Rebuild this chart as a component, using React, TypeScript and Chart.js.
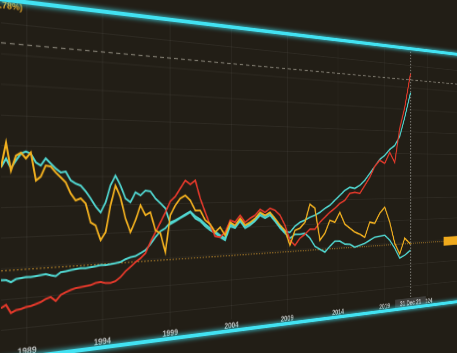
import React, { useEffect, useRef } from "react";
import { Chart, registerables } from "chart.js";

Chart.register(...registerables);

// ---- data (decimal years, index levels) ----
const dates = [
  1987.39, 1987.70, 1988.00, 1988.31, 1988.62, 1988.93, 1989.24, 1989.56, 1989.87, 1990.19,
  1990.51, 1990.84, 1991.17, 1991.50, 1991.83, 1992.16, 1992.50, 1992.84, 1993.18, 1993.52,
  1993.87, 1994.22, 1994.57, 1994.92, 1995.28, 1995.64, 1996.00, 1996.37, 1996.74, 1997.11,
  1997.48, 1997.86, 1998.24, 1998.62, 1999.00, 1999.39, 1999.78, 2000.18, 2000.58, 2000.98,
  2001.38, 2001.79, 2002.20, 2002.61, 2003.03, 2003.45, 2003.88, 2004.30, 2004.74, 2005.17,
  2005.61, 2006.05, 2006.50, 2006.95, 2007.40, 2007.86, 2008.32, 2008.78, 2009.25, 2009.73,
  2010.20, 2010.69, 2011.17, 2011.66, 2012.16, 2012.66, 2013.16, 2013.67, 2014.18, 2014.70,
  2015.22, 2015.75, 2016.28, 2016.81, 2017.35, 2017.90, 2018.45, 2019.01, 2019.57, 2020.14,
  2020.71, 2021.29, 2021.97,
];

const goldSeries = [
  53.0, 61.1, 52.0, 56.9, 57.9, 56.0, 58.0, 48.7, 50.0, 53.7,
  53.4, 51.4, 49.7, 48.0, 44.2, 41.8, 42.5, 40.7, 34.1, 33.0,
  27.8, 30.5, 39.9, 46.8, 42.6, 35.1, 30.1, 34.3, 39.6, 36.0,
  37.0, 30.4, 29.2, 22.2, 35.7, 39.3, 41.8, 42.9, 41.0, 37.2,
  37.2, 33.4, 31.8, 28.7, 30.5, 27.3, 32.2, 31.0, 33.6, 30.9,
  31.9, 33.4, 35.7, 34.5, 35.6, 33.1, 30.3, 28.1, 22.0, 27.9,
  28.7, 31.0, 38.4, 36.7, 23.3, 26.1, 31.4, 30.5, 34.6, 29.5,
  27.7, 25.9, 24.9, 23.4, 29.9, 29.3, 33.6, 36.2, 29.5, 20.0,
  15.0, 22.0, 19.1,
];

const tealUpperSeries = [
  53.0, 55.9, 52.7, 55.3, 57.6, 58.3, 57.6, 54.7, 53.7, 56.1,
  54.4, 52.7, 51.4, 51.7, 48.7, 47.6, 46.9, 44.9, 42.4, 39.6,
  37.5, 40.9, 46.9, 50.3, 46.8, 42.2, 40.8, 44.3, 43.2, 44.9,
  44.6, 42.0, 40.2, 38.3, 32.4, 33.4, 34.5, 35.5, 36.6, 34.2,
  33.1, 31.1, 29.5, 28.3, 26.7, 25.4, 30.7, 29.9, 32.5, 29.7,
  30.8, 32.3, 34.5, 33.3, 34.4, 31.9, 29.1, 26.9, 24.8, 26.3,
  26.2, 26.5, 24.4, 20.9, 19.5, 18.2, 20.5, 22.5, 22.4, 21.0,
  20.8, 19.4, 20.1, 20.8, 22.0, 23.2, 23.5, 23.8, 21.5, 17.8,
  13.2, 14.3, 16.4,
];

const tealLowerSeries = [
  16.4, 16.3, 15.5, 16.4, 16.6, 16.8, 16.7, 16.9, 17.1, 17.3,
  16.8, 16.4, 17.6, 17.8, 18.1, 18.3, 18.5, 18.4, 18.6, 18.8,
  19.1, 19.0, 19.2, 19.4, 19.7, 20.6, 21.2, 21.5, 22.4, 23.4,
  25.4, 27.9, 30.0, 31.0, 33.1, 33.8, 34.8, 35.9, 36.9, 35.0,
  33.8, 31.9, 30.3, 29.0, 27.4, 26.2, 31.5, 30.6, 33.2, 30.5,
  31.5, 33.0, 35.3, 34.1, 35.2, 32.7, 29.9, 27.7, 27.2, 29.6,
  31.1, 31.9, 33.0, 33.8, 34.9, 36.5, 37.7, 39.8, 41.8, 43.9,
  45.2, 44.7, 46.0, 48.1, 51.1, 54.2, 57.3, 59.1, 61.8, 63.6,
  67.7, 76.3, 87.7,
];

const redSeries = [
  7.3, 8.2, 5.4, 6.2, 6.4, 6.9, 7.1, 7.6, 8.1, 9.0,
  9.5, 8.0, 9.9, 10.7, 11.3, 11.8, 12.0, 12.2, 12.4, 13.0,
  13.2, 12.7, 12.6, 13.1, 14.4, 16.3, 17.7, 19.3, 20.6, 22.3,
  26.2, 29.7, 33.2, 36.8, 40.8, 42.6, 45.5, 48.5, 47.0, 48.5,
  41.7, 36.4, 31.4, 27.1, 26.7, 28.5, 33.0, 32.2, 34.8, 32.0,
  33.5, 34.6, 36.9, 35.6, 37.2, 36.3, 34.3, 30.2, 24.0, 21.8,
  24.6, 26.1, 28.1, 28.0, 30.8, 32.8, 34.8, 36.4, 38.4, 39.7,
  42.6, 43.0, 42.5, 45.9, 49.4, 54.2, 56.9, 55.6, 60.5, 56.0,
  71.3, 80.8, 96.3,
];

const yearTicks = [1989, 1994, 1999, 2004, 2009, 2014, 2019, 2024];
const gridLevels = [0, 10, 20, 30, 40, 50, 60, 70, 80, 90, 100];
const legendText = "(.78%)";
const cursorDate = 2021.99;
const cursorLabel = "31 Dec 21";
const lastGoldLevel = 19.4;
const dashedLevel = 93.5;
const priceTagStart = 2026.0;

// ---- layout ----
const X_MIN = 1987.394;
const X_MAX = 2029.345;
const Y_MIN = -5.29;
const Y_MAX = 107.65;
const PANEL_W = 700;
const PANEL_H = 346;
const QUAD: number[][] = [
  [0, -2],
  [470, 55.15],
  [470, 300.7],
  [0, 361.6],
];

const BG = "rgb(34,30,22)";
const GOLD = "#f2b01e";
const TEAL = "#50d6d0";
const RED = "#e2382a";
const BORDER = "#42e2f2";

function homography(w: number, h: number, q: number[][]) {
  const [x0, y0] = q[0];
  const [x1, y1] = q[1];
  const [x2, y2] = q[2];
  const [x3, y3] = q[3];
  const dx1 = x1 - x2, dx2 = x3 - x2, dx3 = x0 - x1 + x2 - x3;
  const dy1 = y1 - y2, dy2 = y3 - y2, dy3 = y0 - y1 + y2 - y3;
  const den = dx1 * dy2 - dx2 * dy1;
  const g = (dx3 * dy2 - dx2 * dy3) / den;
  const hh = (dx1 * dy3 - dx3 * dy1) / den;
  const a = x1 - x0 + g * x1;
  const b = x3 - x0 + hh * x3;
  const d = y1 - y0 + g * y1;
  const e = y3 - y0 + hh * y3;
  return `matrix3d(${a / w},${d / w},0,${g / w},${b / h},${e / h},0,${hh / h},0,0,1,0,${x0},${y0},0,1)`;
}

const toPoints = (vals: number[]) => vals.map((v, i) => ({ x: dates[i], y: v }));

const overlayPlugin = {
  id: "overlay",
  beforeDatasetsDraw(chart: any) {
    const { ctx, chartArea, scales } = chart;
    const x = scales.x;
    const y = scales.y;
    ctx.save();
    // dashed reference line
    ctx.setLineDash([5, 4]);
    ctx.strokeStyle = "rgba(200,195,180,0.55)";
    ctx.lineWidth = 1.3;
    const yd = y.getPixelForValue(dashedLevel);
    ctx.beginPath();
    ctx.moveTo(chartArea.left, yd);
    ctx.lineTo(chartArea.right, yd);
    ctx.stroke();
    // last gold value line
    ctx.setLineDash([2, 2]);
    ctx.strokeStyle = "rgba(170,125,40,0.85)";
    ctx.lineWidth = 1.2;
    const yg = y.getPixelForValue(lastGoldLevel);
    ctx.beginPath();
    ctx.moveTo(chartArea.left, yg);
    ctx.lineTo(chartArea.right, yg);
    ctx.stroke();
    // cursor line
    ctx.setLineDash([2, 2]);
    ctx.strokeStyle = "rgba(170,170,165,0.7)";
    ctx.lineWidth = 1.5;
    const xc = x.getPixelForValue(cursorDate);
    ctx.beginPath();
    ctx.moveTo(xc, chartArea.top);
    ctx.lineTo(xc, chartArea.bottom);
    ctx.stroke();
    ctx.restore();
  },
  afterDraw(chart: any) {
    const { ctx, chartArea, scales } = chart;
    const x = scales.x;
    const y = scales.y;
    ctx.save();
    // legend fragment
    ctx.font = "bold 9px 'Liberation Sans', Arial, sans-serif";
    ctx.fillStyle = "#e4a526";
    ctx.textAlign = "right";
    ctx.textBaseline = "middle";
    ctx.fillText(legendText, chartArea.left + 22, chartArea.top + 6);
    // price tag
    const yg = y.getPixelForValue(lastGoldLevel);
    const xt = x.getPixelForValue(priceTagStart);
    ctx.fillStyle = "#f0aa1c";
    ctx.fillRect(xt, yg - 6, chartArea.right - xt, 12);
    // cursor date box
    const xc = x.getPixelForValue(cursorDate);
    const by = chartArea.bottom + 7;
    ctx.fillStyle = "#3e3d3a";
    ctx.fillRect(xc - 30, by - 7, 60, 14);
    ctx.font = "bold 9px 'Liberation Sans', Arial, sans-serif";
    ctx.fillStyle = "#cfcfcf";
    ctx.textAlign = "center";
    ctx.fillText(cursorLabel, xc, by);
    ctx.restore();
  },
};

export default function App() {
  const canvasRef = useRef<HTMLCanvasElement>(null);

  useEffect(() => {
    const canvas = canvasRef.current;
    if (!canvas) return;
    const line = (label: string, vals: number[], color: string) => ({
      label,
      data: toPoints(vals),
      borderColor: color,
      backgroundColor: color,
      borderWidth: 2,
      pointRadius: 0,
      tension: 0,
      fill: false,
    });
    const chart = new Chart(canvas, {
      type: "line",
      data: {
        datasets: [
          line("Gold", goldSeries, GOLD),
          line("Red", redSeries, RED),
          line("Teal upper", tealUpperSeries, TEAL),
          line("Teal lower", tealLowerSeries, TEAL),
        ],
      },
      options: {
        animation: false,
        responsive: true,
        maintainAspectRatio: false,
        devicePixelRatio: 2,
        events: [],
        layout: { padding: 0 },
        plugins: {
          legend: { display: false },
          tooltip: { enabled: false },
          title: { display: false },
        },
        scales: {
          x: {
            type: "linear",
            min: X_MIN,
            max: X_MAX,
            afterBuildTicks: (s: any) => {
              s.ticks = yearTicks.map((v) => ({ value: v }));
            },
            afterFit: (s: any) => {
              s.height = PANEL_H * 0.04;
            },
            grid: { color: "rgba(255,255,255,0.055)", drawTicks: false },
            border: { display: false },
            ticks: {
              autoSkip: false,
              maxRotation: 0,
              padding: 2,
              color: "#c2c2c0",
              font: { size: 9, weight: "bold", family: "'Liberation Sans', Arial, sans-serif" },
              callback: (v: any) => String(v),
            },
          },
          y: {
            type: "linear",
            min: Y_MIN,
            max: Y_MAX,
            afterBuildTicks: (s: any) => {
              s.ticks = gridLevels.map((v) => ({ value: v }));
            },
            afterFit: (s: any) => {
              s.width = 0;
            },
            grid: { color: "rgba(255,255,255,0.05)", drawTicks: false },
            border: { display: false },
            ticks: { display: false },
          },
        },
      } as any,
      plugins: [overlayPlugin],
    });
    return () => chart.destroy();
  }, []);

  const glow = `0 0 5px 1px rgba(66,226,242,0.75)`;
  return (
    <div
      style={{
        position: "fixed",
        left: 0,
        top: 0,
        width: "100vw",
        height: "100vh",
        background: BG,
        overflow: "hidden",
      }}
    >
      <div
        style={{
          position: "absolute",
          left: 0,
          top: 0,
          width: PANEL_W,
          height: PANEL_H,
          background: BG,
          transformOrigin: "0 0",
          transform: homography(PANEL_W, PANEL_H, QUAD),
        }}
      >
        <canvas ref={canvasRef} />
        <div
          style={{
            position: "absolute",
            left: 0,
            right: 0,
            top: -1,
            height: 4,
            background: BORDER,
            boxShadow: glow,
          }}
        />
        <div
          style={{
            position: "absolute",
            left: 0,
            right: 0,
            bottom: -1,
            height: 4,
            background: BORDER,
            boxShadow: glow,
          }}
        />
      </div>
    </div>
  );
}
